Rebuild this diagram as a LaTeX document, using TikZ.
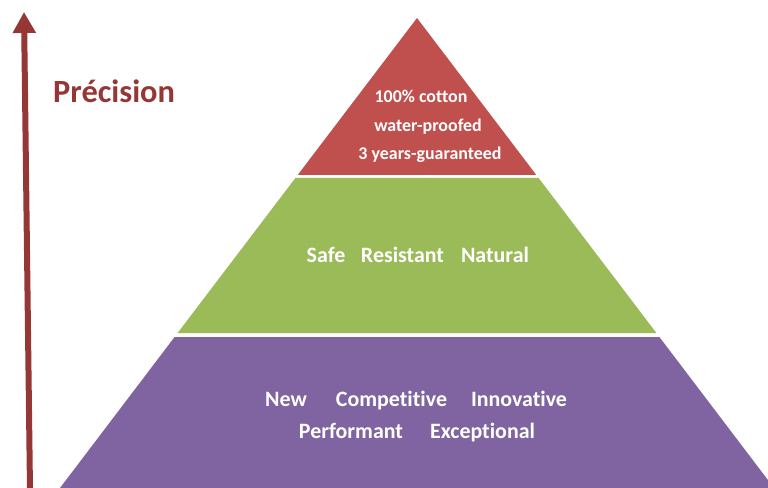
\documentclass[tikz,border=0pt]{standalone}
\usepackage{fontspec}
\setmainfont{Carlito}[Ligatures=CommonOff]
\usetikzlibrary{arrows.meta}
\definecolor{pyrred}{HTML}{C0504D}
\definecolor{pyrgreen}{HTML}{9BBB59}
\definecolor{pyrpurple}{HTML}{8064A2}
\definecolor{arrowred}{HTML}{953735}
\tikzset{
  toptext/.style={text=white, font=\bfseries\fontsize{18}{22}\selectfont, anchor=base, inner sep=0pt},
  wordtext/.style={text=white, font=\bfseries\fontsize{22}{26}\selectfont, anchor=base, inner sep=0pt},
}
\begin{document}
\begin{tikzpicture}[x=1bp,y=-1bp]
\useasboundingbox (0,0) rectangle (768,488);
\clip (0,0) rectangle (768,488);
% layers
\fill[pyrred] (417,18) -- (536.3,175) -- (297.7,175) -- cycle;
\fill[pyrgreen] (295.4,178) -- (538.6,178) -- (656.4,333) -- (177.6,333) -- cycle;
\fill[pyrpurple] (174.6,337) -- (659.4,337) -- (774,488) -- (60,488) -- cycle;
% arrow
\coordinate (abot) at (30,490);
\coordinate (atop) at (24,12);
\draw[arrowred, line width=6bp, -{Triangle[width=22bp,length=21bp]}] (abot) -- (atop);
\node[anchor=base west, text=arrowred, font=\bfseries\fontsize{32.5}{36}\selectfont, inner sep=0pt] (prec) at (53,103) {Précision};
% top layer
\node[toptext] (t1) at (421,103) {100\% cotton};
\node[toptext] (t2) at (428,132) {water-proofed};
\node[toptext] (t3) at (430,160) {3 years-guaranteed};
% middle layer
\node[wordtext] (g1) at (326,263) {Safe};
\node[wordtext] (g2) at (402.5,263) {Resistant};
\node[wordtext] (g3) at (495,263) {Natural};
% bottom layer
\node[wordtext] (p1) at (286,406) {New};
\node[wordtext] (p2) at (391.5,406) {Competitive};
\node[wordtext] (p3) at (519,406) {Innovative};
\node[wordtext] (p4) at (351,438) {Performant};
\node[wordtext] (p5) at (482.5,438) {Exceptional};
\end{tikzpicture}
\end{document}
